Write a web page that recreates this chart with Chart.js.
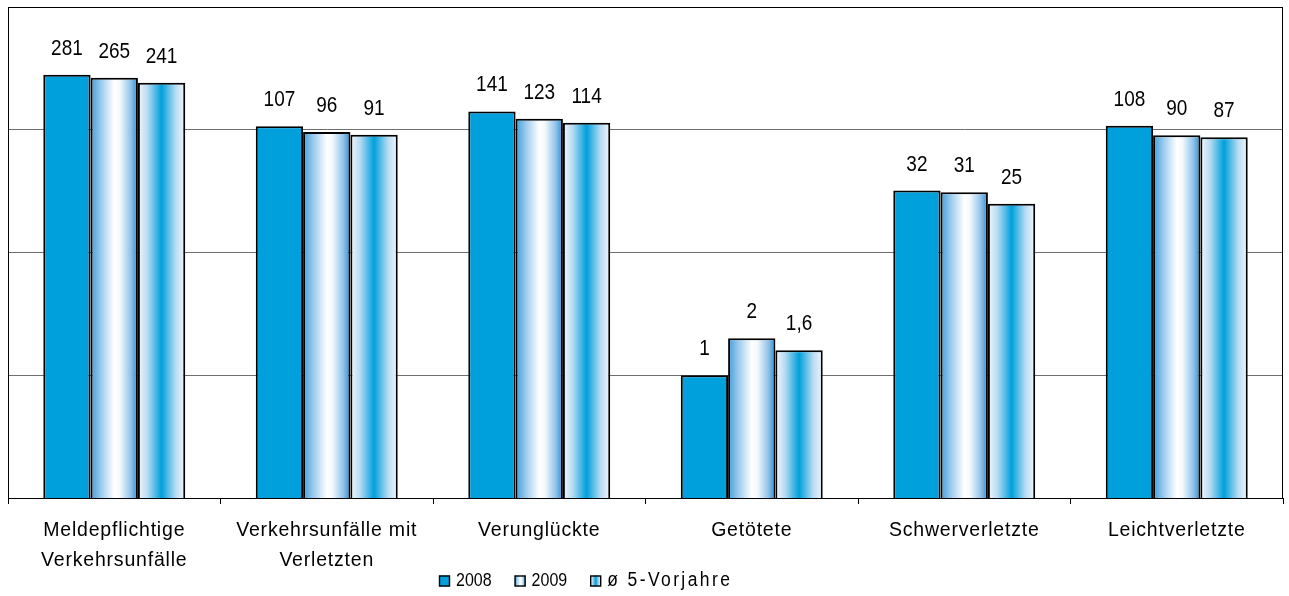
<!DOCTYPE html>
<html>
<head>
<meta charset="utf-8">
<script src="https://cdn.jsdelivr.net/npm/chart.js@4.4.1/dist/chart.umd.min.js"></script>
<style>
  html, body { margin: 0; padding: 0; background: #ffffff; }
  #wrap { width: 1289px; height: 596px; position: relative; }
</style>
</head>
<body>
<div id="wrap"><canvas id="chart"></canvas></div>
<script>
// Categories (multi-line labels) and the three series
const categories = [
  ['Meldepflichtige', 'Verkehrsunfälle'],
  ['Verkehrsunfälle mit', 'Verletzten'],
  ['Verunglückte'],
  ['Getötete'],
  ['Schwerverletzte'],
  ['Leichtverletzte']
];
const seriesNames = ['2008', '2009', 'ø 5-Vorjahre'];
const values2008 = [281, 107, 141, 1, 32, 108];
const values2009 = [265, 96, 123, 2, 31, 90];
const valuesAvg = [241, 91, 114, 1.6, 25, 87];
// Logarithmic grid lines (powers of ten)
const gridValues = [0.1, 1, 10, 100, 1000];

const FONT = "'Liberation Sans', Arial, Helvetica, sans-serif";
const GROUP = 0.668;

// Horizontal gradient stops for each series
const fillStops = [
  null,
  [[0, '#3f9dd9'], [0.22, '#9ccbee'], [0.5, '#ffffff'], [0.62, '#f4f9fd'], [0.85, '#8fc3ea'], [1, '#2a8bd1']],
  [[0, '#f2f7fc'], [0.2, '#b9dcf3'], [0.5, '#00a0dc'], [0.8, '#b9dcf3'], [1, '#f2f7fc']]
];
const solidFill = '#00a0dc';

function makeGradient(ctx2d, x0, x1, stops) {
  const g = ctx2d.createLinearGradient(x0, 0, x1, 0);
  stops.forEach(s => g.addColorStop(s[0], s[1]));
  return g;
}

function barFill(c) {
  const ds = c.datasetIndex;
  if (ds === 0) return solidFill;
  const chart = c.chart;
  const xs = chart.scales && chart.scales.x;
  if (!xs || c.dataIndex === undefined || !isFinite(xs.left)) return '#9ccbee';
  const cw = (xs.right - xs.left) / categories.length;
  const bw = cw * GROUP / 3;
  const cx = xs.getPixelForValue(c.dataIndex) + (ds - 1) * bw;
  return makeGradient(chart.ctx, cx - bw / 2, cx + bw / 2, fillStops[ds]);
}

function fmt(v) {
  return String(v).replace('.', ',');
}

// Frame around the plot area
const framePlugin = {
  id: 'frame',
  beforeDatasetsDraw(chart) {
    const a = chart.chartArea, ctx = chart.ctx;
    ctx.save();
    ctx.strokeStyle = '#000';
    ctx.lineWidth = 1;
    ctx.strokeRect(Math.round(a.left) + 0.5, Math.round(a.top) + 0.5,
                   Math.round(a.right - a.left) - 1, Math.round(a.bottom - a.top));
    ctx.restore();
  }
};

// Value labels above each bar
const valueLabels = {
  id: 'valueLabels',
  afterDatasetsDraw(chart) {
    const ctx = chart.ctx;
    ctx.save();
    ctx.fillStyle = '#000';
    ctx.font = '19px ' + FONT;
    ctx.textAlign = 'center';
    ctx.textBaseline = 'middle';
    chart.data.datasets.forEach((ds, di) => {
      chart.getDatasetMeta(di).data.forEach((el, i) => {
        ctx.save();
        ctx.translate(el.x, el.y - 26);
        ctx.scale(1, 1.15);
        ctx.fillText(fmt(ds.data[i]), 0, 0);
        ctx.restore();
      });
    });
    ctx.restore();
  }
};

// Category names below the axis
const categoryLabels = {
  id: 'categoryLabels',
  afterDraw(chart) {
    const ctx = chart.ctx, xs = chart.scales.x, a = chart.chartArea;
    ctx.save();
    ctx.fillStyle = '#000';
    ctx.font = '19.5px ' + FONT;
    ctx.textAlign = 'center';
    ctx.textBaseline = 'middle';
    if ('letterSpacing' in ctx) ctx.letterSpacing = '0.8px';
    categories.forEach((lines, i) => {
      const x = xs.getPixelForValue(i);
      lines.forEach((t, li) => {
        ctx.save();
        ctx.translate(x, a.bottom + 32 + li * 30);
        ctx.scale(1, 1.05);
        ctx.fillText(t, 0, 0);
        ctx.restore();
      });
    });
    ctx.restore();
  }
};

// Legend row under the category names
const legendRow = {
  id: 'legendRow',
  afterDraw(chart) {
    const ctx = chart.ctx;
    const y = 581, box = 11, gapBox = 6, gapItem = 23;
    const fonts = ['16px ', '16px ', '17.5px '];
    const spacing = ['0px', '0px', '2.4px'];
    ctx.save();
    ctx.textBaseline = 'middle';
    let x = 439;
    seriesNames.forEach((name, i) => {
      const bx = x, by = y - box / 2;
      ctx.fillStyle = i === 0 ? solidFill : makeGradient(ctx, bx, bx + box, fillStops[i]);
      ctx.fillRect(bx, by, box, box);
      ctx.strokeStyle = '#000';
      ctx.lineWidth = 1.4;
      ctx.strokeRect(bx + 0.5, by + 0.5, box - 1, box - 1);
      ctx.fillStyle = '#000';
      ctx.font = fonts[i] + FONT;
      if ('letterSpacing' in ctx) ctx.letterSpacing = spacing[i];
      const tx = bx + box + gapBox;
      ctx.save();
      ctx.translate(tx, y);
      ctx.scale(1, 1.12);
      ctx.fillText(name, 0, 0);
      ctx.restore();
      x = tx + ctx.measureText(name).width + gapItem;
    });
    ctx.restore();
  }
};

const seriesValues = [values2008, values2009, valuesAvg];

new Chart(document.getElementById('chart'), {
  type: 'bar',
  data: {
    labels: categories,
    datasets: seriesValues.map((vals, i) => ({
      label: seriesNames[i],
      data: vals,
      backgroundColor: barFill,
      borderColor: '#000',
      borderWidth: 2,
      borderSkipped: 'start',
      categoryPercentage: GROUP,
      barPercentage: 1
    }))
  },
  options: {
    responsive: true,
    maintainAspectRatio: false,
    animation: false,
    layout: { padding: { left: 8, right: 6, top: 7, bottom: 0 } },
    plugins: {
      legend: { display: false },
      tooltip: { enabled: false }
    },
    scales: {
      x: {
        type: 'category',
        offset: true,
        grid: { offset: true, drawOnChartArea: false, drawTicks: true, tickLength: 6, color: '#000', lineWidth: 1 },
        border: { display: true, color: '#000', width: 1 },
        ticks: { display: false },
        afterFit(s) { s.height = 98; }
      },
      y: {
        type: 'logarithmic',
        min: gridValues[0],
        max: gridValues[gridValues.length - 1],
        afterBuildTicks(s) { s.ticks = gridValues.map(v => ({ value: v })); },
        grid: {
          drawTicks: false,
          color: c => (c.tick && c.tick.value > 0.5 && c.tick.value < 500) ? '#6e6e6e' : 'rgba(0,0,0,0)',
          lineWidth: 1
        },
        border: { display: true, color: '#000', width: 1 },
        ticks: { display: false },
        afterFit(s) { s.width = 0; }
      }
    }
  },
  plugins: [framePlugin, valueLabels, categoryLabels, legendRow]
});
</script>
</body>
</html>
